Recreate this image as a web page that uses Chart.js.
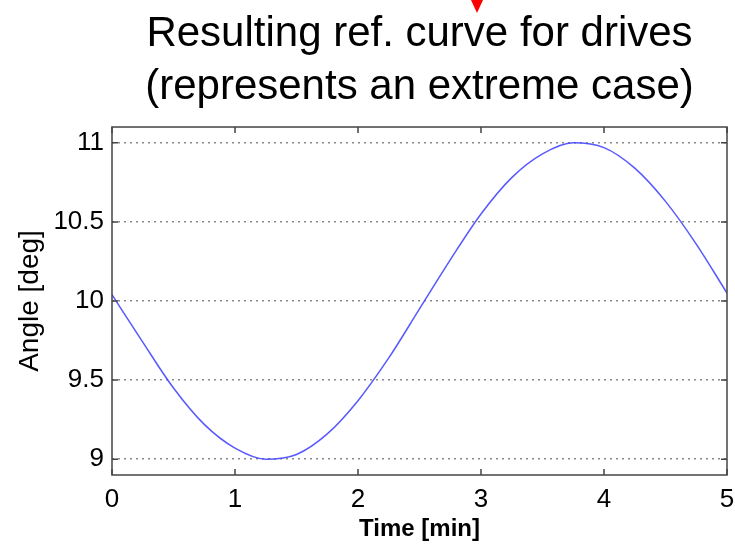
<!DOCTYPE html>
<html>
<head>
<meta charset="utf-8">
<script src="https://cdn.jsdelivr.net/npm/chart.js@4/dist/chart.umd.min.js"></script>
<style>
  html, body { margin: 0; padding: 0; background: #fff; }
  #wrap { width: 735px; height: 544px; }
</style>
</head>
<body>
<div id="wrap"><canvas id="refChart" width="735" height="544"></canvas></div>
<script>
const timeMin = [0, 0.25, 0.5, 0.75, 1, 1.25, 1.5, 1.75, 2, 2.25, 2.5, 2.75, 3, 3.25, 3.5, 3.75, 4, 4.25, 4.5, 4.75, 5];
const angleDeg = [10.04, 9.74, 9.45, 9.22, 9.07, 9.00, 9.03, 9.16, 9.37, 9.64, 9.95, 10.26, 10.55, 10.78, 10.93, 11.00, 10.97, 10.84, 10.63, 10.36, 10.05];
const xTicks = [0, 1, 2, 3, 4, 5];
const yTicks = [9, 9.5, 10, 10.5, 11];

const FONT = "'Liberation Sans', Arial, sans-serif";

// matlab-like box with inward ticks + the little red arrow above the title
const boxPlugin = {
  id: "boxPlugin",
  afterDraw(chart) {
    const ctx = chart.ctx;
    const a = chart.chartArea;
    const xs = chart.scales.x, ys = chart.scales.y;
    ctx.save();
    ctx.strokeStyle = "#444";
    ctx.lineWidth = 1.5;
    ctx.strokeRect(a.left, a.top, a.right - a.left, a.bottom - a.top);
    ctx.beginPath();
    xTicks.forEach(v => {
      const px = xs.getPixelForValue(v);
      ctx.moveTo(px, a.bottom); ctx.lineTo(px, a.bottom - 6);
      ctx.moveTo(px, a.top); ctx.lineTo(px, a.top + 6);
    });
    yTicks.forEach(v => {
      const py = ys.getPixelForValue(v);
      ctx.moveTo(a.left, py); ctx.lineTo(a.left + 6, py);
      ctx.moveTo(a.right, py); ctx.lineTo(a.right - 6, py);
    });
    ctx.stroke();

    ctx.fillStyle = "#ff0000";
    ctx.beginPath();
    ctx.moveTo(471, 0); ctx.lineTo(483, 0); ctx.lineTo(477, 13);
    ctx.closePath();
    ctx.fill();
    ctx.restore();
  }
};

new Chart(document.getElementById("refChart"), {
  type: "line",
  data: {
    datasets: [{
      data: timeMin.map((t, i) => ({ x: t, y: angleDeg[i] })),
      borderColor: "rgba(70,70,255,0.9)",
      borderWidth: 1.5,
      pointRadius: 0,
      fill: false,
      cubicInterpolationMode: "monotone"
    }]
  },
  options: {
    responsive: false,
    animation: false,
    layout: { padding: { left: 0, right: 8, top: 0, bottom: 0 } },
    plugins: {
      legend: { display: false },
      tooltip: { enabled: false },
      title: {
        display: true,
        fullSize: false,
        text: ["Resulting ref. curve for drives", "(represents an extreme case)"],
        color: "#000",
        font: { family: FONT, size: 42, weight: "normal", lineHeight: 1.262 },
        padding: { top: 8, bottom: 13 }
      }
    },
    scales: {
      x: {
        type: "linear",
        min: 0, max: 5,
        afterBuildTicks: s => { s.ticks = xTicks.map(v => ({ value: v })); },
        afterFit: s => { s.height = 69; s.paddingRight = 0; },
        grid: { display: false, drawTicks: false },
        border: { display: false },
        ticks: {
          color: "#000",
          padding: 9,
          maxRotation: 0,
          font: { family: FONT, size: 26 },
          callback: v => String(v)
        },
        title: {
          display: true,
          text: "Time [min]",
          color: "#000",
          font: { family: FONT, size: 24, weight: "bold" },
          padding: { top: 0, bottom: 0 }
        }
      },
      y: {
        min: 8.9, max: 11.1,
        afterBuildTicks: s => { s.ticks = yTicks.map(v => ({ value: v })); },
        afterFit: s => { s.width = 112; },
        grid: {
          color: "#8a8a8a",
          lineWidth: 1.5,
          drawTicks: false,
          drawOnChartArea: true
        },
        border: { display: false, dash: [2, 4] },
        ticks: {
          color: "#000",
          padding: 8,
          font: { family: FONT, size: 26 },
          callback: v => String(v)
        },
        title: {
          display: true,
          text: "Angle [deg]",
          color: "#000",
          font: { family: FONT, size: 28, weight: "normal" },
          padding: { top: 13, bottom: 0 }
        }
      }
    }
  },
  plugins: [boxPlugin]
});
</script>
</body>
</html>
